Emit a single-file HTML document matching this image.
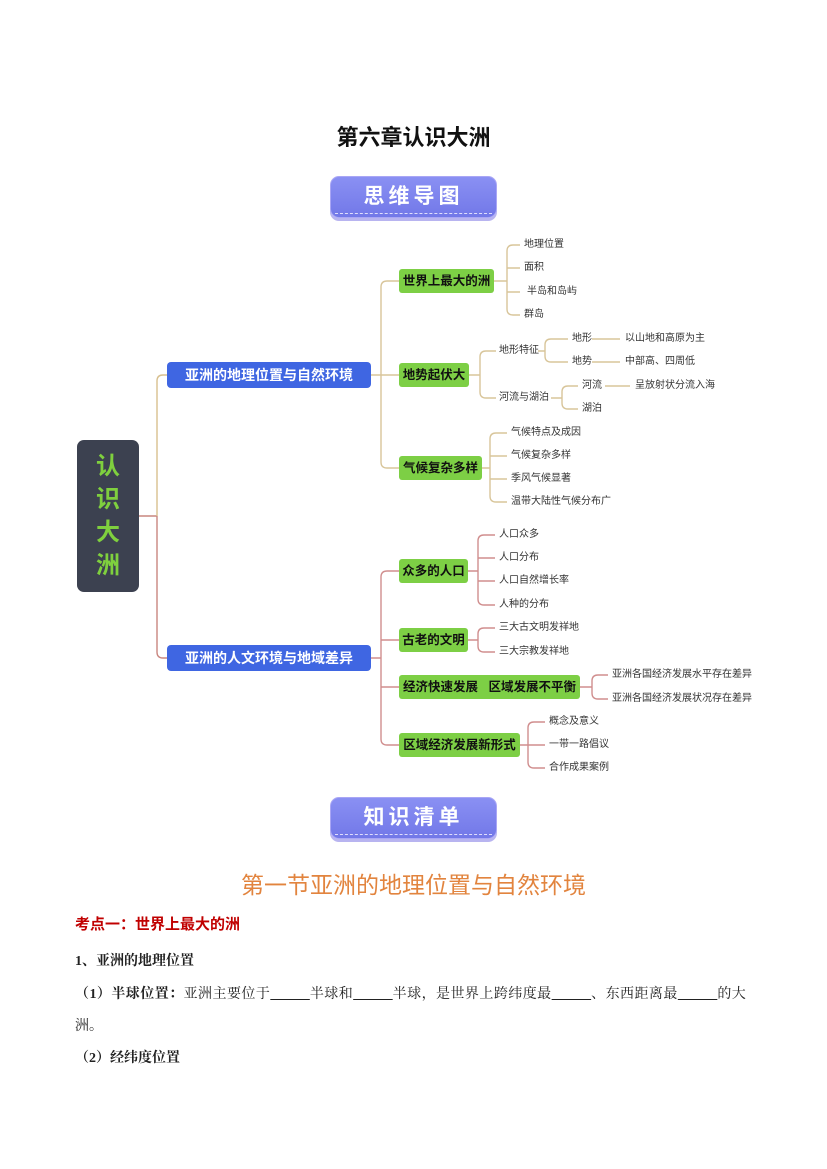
<!DOCTYPE html>
<html><head><meta charset="utf-8"><style>
*{margin:0;padding:0;box-sizing:border-box}
body{width:827px;height:1169px;background:#fff;position:relative;overflow:hidden;font-family:"Liberation Sans","Noto Sans CJK SC",sans-serif;color:#222}
.a{position:absolute;white-space:nowrap}
.ban{position:absolute;left:330px;width:167px;height:42px;border-radius:9px;background:linear-gradient(#8a90f3,#7278e8);box-shadow:0 3px 0 #b8b4f0;color:#fff;font-weight:bold;font-size:21px;letter-spacing:4px;text-align:center;line-height:40px;border:1px solid #a9a6f5}
.ban:after{content:"";position:absolute;left:4px;right:4px;bottom:3px;border-bottom:1px dashed #e0defc}
.blue{position:absolute;left:167px;width:204px;height:26px;background:#3f66e2;color:#fff;font-weight:bold;font-size:14px;line-height:26px;text-align:center;border-radius:4px}
.g{position:absolute;height:24px;background:#7dcf45;color:#111;font-weight:bold;font-size:12.5px;line-height:24px;text-align:center;white-space:nowrap;border-radius:3px;overflow:visible}
.l{position:absolute;font-size:10px;line-height:12px;color:#333;white-space:nowrap;transform:translateY(-6px)}
.s{font-family:'Liberation Serif','Noto Serif CJK SC',serif}
</style></head><body>
<div class="a" style="left:0;width:827px;text-align:center;top:120px;font-size:22px;font-weight:bold;color:#111">第六章认识大洲</div>
<div class="ban" style="top:176px">思维导图</div>

<svg class="a" style="left:0;top:0" width="827" height="800">
<g fill="none" stroke-width="1.4">
<path d="M139 516H157" stroke="#c9867f"/>
<path d="M157 516V381Q157 375 163 375H167" stroke="#d8c08f"/>
<path d="M157 516V652Q157 658 163 658H167" stroke="#c9867f"/>
<g stroke="#d8c59a">
<path d="M371 375H381M381 287Q381 281 387 281H399M381 287V462Q381 468 387 468H399M381 375H399"/>
<path d="M494 281H507M507 251Q507 245 513 245H520M507 251V309Q507 315 513 315H520M507 268H520M507 292H520"/>
<path d="M469 375H480M480 357Q480 351 486 351H496M480 357V392Q480 398 486 398H496"/>
<path d="M538 351H545M545 345Q545 339 551 339H568M545 345V356Q545 362 551 362H568M592 339H620M592 362H620"/>
<path d="M551 398H562M562 392Q562 386 568 386H578M562 392V403Q562 409 568 409H578M605 386H630"/>
<path d="M482 468H490M490 439Q490 433 496 433H507M490 439V496Q490 502 496 502H507M490 456H507M490 479H507"/>
</g>
<g stroke="#d08e8e">
<path d="M371 658H381M381 577Q381 571 387 571H399M381 577V739Q381 745 387 745H399M381 640H399M381 687H399"/>
<path d="M468 571H478M478 541Q478 535 484 535H495M478 541V599Q478 605 484 605H495M478 558H495M478 581H495"/>
<path d="M468 640H478M478 634Q478 628 484 628H495M478 634V646Q478 652 484 652H495"/>
<path d="M580 687H592M592 681Q592 675 598 675H608M592 681V693Q592 699 598 699H608"/>
<path d="M520 745H528M528 728Q528 722 534 722H545M528 728V762Q528 768 534 768H545M528 745H545"/>
</g>
</g>
</svg>

<div class="a" style="left:77px;top:440px;width:62px;height:152px;background:#3c4150;border-radius:7px;color:#7fd03e;font-weight:bold;font-size:24px;line-height:33px;text-align:center;padding-top:10px">认<br>识<br>大<br>洲</div>

<div class="blue" style="top:362px">亚洲的地理位置与自然环境</div>
<div class="blue" style="top:645px">亚洲的人文环境与地域差异</div>

<div class="g" style="left:399px;top:269px;width:95px">世界上最大的洲</div>
<div class="g" style="left:399px;top:363px;width:70px">地势起伏大</div>
<div class="g" style="left:399px;top:456px;width:83px">气候复杂多样</div>
<div class="g" style="left:399px;top:559px;width:69px">众多的人口</div>
<div class="g" style="left:399px;top:628px;width:69px">古老的文明</div>
<div class="g" style="left:399px;top:675px;width:181px">经济快速发展&nbsp;&nbsp;&nbsp;区域发展不平衡</div>
<div class="g" style="left:399px;top:733px;width:121px">区域经济发展新形式</div>

<div class="l" style="left:524px;top:245px">地理位置</div>
<div class="l" style="left:524px;top:268px">面积</div>
<div class="l" style="left:527px;top:292px">半岛和岛屿</div>
<div class="l" style="left:524px;top:315px">群岛</div>
<div class="l" style="left:499px;top:351px">地形特征</div>
<div class="l" style="left:499px;top:398px">河流与湖泊</div>
<div class="l" style="left:572px;top:339px">地形</div>
<div class="l" style="left:572px;top:362px">地势</div>
<div class="l" style="left:625px;top:339px">以山地和高原为主</div>
<div class="l" style="left:625px;top:362px">中部高、四周低</div>
<div class="l" style="left:582px;top:386px">河流</div>
<div class="l" style="left:582px;top:409px">湖泊</div>
<div class="l" style="left:635px;top:386px">呈放射状分流入海</div>
<div class="l" style="left:511px;top:433px">气候特点及成因</div>
<div class="l" style="left:511px;top:456px">气候复杂多样</div>
<div class="l" style="left:511px;top:479px">季风气候显著</div>
<div class="l" style="left:511px;top:502px">温带大陆性气候分布广</div>
<div class="l" style="left:499px;top:535px">人口众多</div>
<div class="l" style="left:499px;top:558px">人口分布</div>
<div class="l" style="left:499px;top:581px">人口自然增长率</div>
<div class="l" style="left:499px;top:605px">人种的分布</div>
<div class="l" style="left:499px;top:628px">三大古文明发祥地</div>
<div class="l" style="left:499px;top:652px">三大宗教发祥地</div>
<div class="l" style="left:612px;top:675px">亚洲各国经济发展水平存在差异</div>
<div class="l" style="left:612px;top:699px">亚洲各国经济发展状况存在差异</div>
<div class="l" style="left:549px;top:722px">概念及意义</div>
<div class="l" style="left:549px;top:745px">一带一路倡议</div>
<div class="l" style="left:549px;top:768px">合作成果案例</div>

<div class="ban" style="top:797px">知识清单</div>

<div class="a" style="left:0;width:827px;text-align:center;top:866px;font-size:23px;color:#e2843e">第一节亚洲的地理位置与自然环境</div>
<div class="a" style="left:75px;top:913px;font-size:15px;font-weight:bold;color:#c00000">考点一：世界上最大的洲</div>
<div class="a s" style="left:75px;top:950px;font-size:14px;font-weight:bold">1、亚洲的地理位置</div>
<div class="a s" style="left:75px;top:983px;font-size:14px;letter-spacing:0.45px"><b>（1）半球位置：</b>亚洲主要位于<u>&nbsp;&nbsp;&nbsp;&nbsp;&nbsp;&nbsp;&nbsp;&nbsp;&nbsp;&nbsp;</u>半球和<u>&nbsp;&nbsp;&nbsp;&nbsp;&nbsp;&nbsp;&nbsp;&nbsp;&nbsp;&nbsp;</u>半球，是世界上跨纬度最<u>&nbsp;&nbsp;&nbsp;&nbsp;&nbsp;&nbsp;&nbsp;&nbsp;&nbsp;&nbsp;</u>、东西距离最<u>&nbsp;&nbsp;&nbsp;&nbsp;&nbsp;&nbsp;&nbsp;&nbsp;&nbsp;&nbsp;</u>的大</div>
<div class="a s" style="left:75px;top:1015px;font-size:14px">洲。</div>
<div class="a s" style="left:75px;top:1047px;font-size:14px;font-weight:bold">（2）经纬度位置</div>
</body></html>
